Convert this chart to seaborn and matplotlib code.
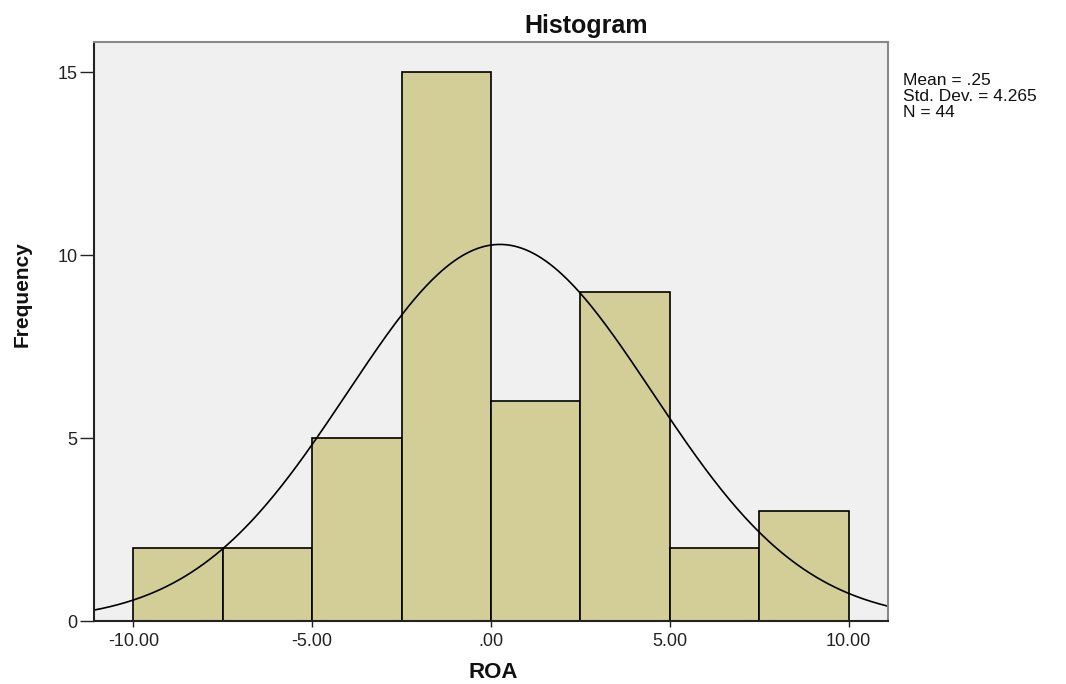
import numpy as np
import pandas as pd
import seaborn as sns
import matplotlib
matplotlib.use("Agg")
import matplotlib.pyplot as plt

# Data
bin_edges = [-10.0, -7.5, -5.0, -2.5, 0.0, 2.5, 5.0, 7.5, 10.0]
counts = [2, 2, 5, 15, 6, 9, 2, 3]
mean_val = 0.25
std_val = 4.265
n_val = 44
x_ticks = [-10, -5, 0, 5, 10]
x_tick_labels = ["-10.00", "-5.00", ".00", "5.00", "10.00"]
y_ticks = [0, 5, 10, 15]

sns.set_theme(style="white")
plt.rcParams['font.family'] = ['Liberation Sans', 'DejaVu Sans']

centers = [(bin_edges[i] + bin_edges[i + 1]) / 2 for i in range(len(counts))]
df = pd.DataFrame({"ROA": centers, "w": counts})

fig = plt.figure(figsize=(10.66, 6.84), dpi=100)
ax = fig.add_axes([94 / 1066, 1 - 621 / 684, (888 - 94) / 1066, (621 - 42) / 684])
ax.set_facecolor("#F0F0F0")

sns.histplot(data=df, x="ROA", weights="w", bins=bin_edges, ax=ax,
             color="#D3CE97", alpha=1.0, edgecolor="black", linewidth=1.2)

binw = bin_edges[1] - bin_edges[0]
xs = np.linspace(-11.1, 11.1, 400)
ys = n_val * binw / (std_val * np.sqrt(2 * np.pi)) * np.exp(-0.5 * ((xs - mean_val) / std_val) ** 2)
sns.lineplot(x=xs, y=ys, ax=ax, color="black", linewidth=1.2)

ax.set_xlim(-11.1, 11.1)
ax.set_ylim(0, 15.82)
ax.set_xticks(x_ticks)
ax.set_xticklabels(x_tick_labels)
ax.set_yticks(y_ticks)
ax.tick_params(axis="x", bottom=True, direction="out", length=4, width=1,
               colors="#222222", labelsize=13, pad=5)
ax.tick_params(axis="y", left=True, direction="out", length=10, width=1,
               colors="#222222", labelsize=13, pad=2)

ax.set_xlabel("")
ax.set_ylabel("")

fig.text(493 / 1066, 1 - 673 / 684, "ROA", ha="center", va="center",
         fontsize=16, fontweight="bold", color="#111111")
fig.text(22 / 1066, 1 - 294 / 684, "Frequency", rotation=90, ha="center", va="center",
         fontsize=15, fontweight="bold", color="#111111")
fig.text(586 / 1066, 1 - 26 / 684, "Histogram", ha="center", va="center",
         fontsize=18, fontweight="bold", color="#111111")

for s in ["left", "bottom"]:
    ax.spines[s].set_color("#222222")
    ax.spines[s].set_linewidth(1.5)
for s in ["top", "right"]:
    ax.spines[s].set_color("#888888")
    ax.spines[s].set_linewidth(1.5)

fig.text(903 / 1066, 1 - 73 / 684,
         "Mean = .25\nStd. Dev. = 4.265\nN = 44",
         fontsize=12.5, va="top", ha="left", linespacing=1.08, color="#111111")

fig.savefig("out.png", dpi=100, facecolor="white")
